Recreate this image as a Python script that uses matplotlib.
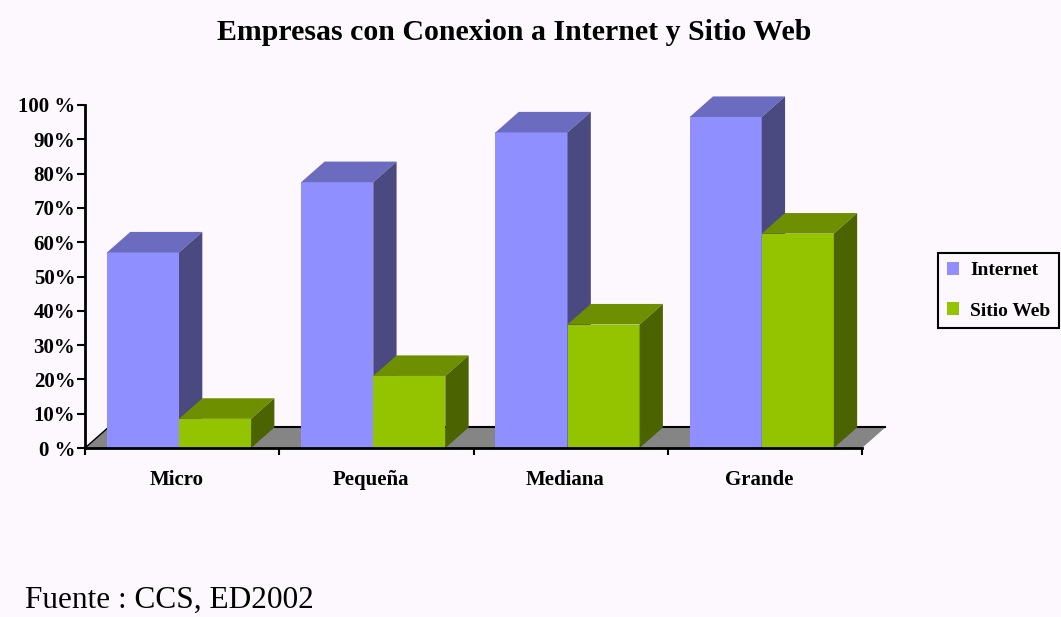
import numpy as np
import matplotlib
matplotlib.use("Agg")
import matplotlib.pyplot as plt
from matplotlib.patches import Polygon, Patch

# data (percent)
categorias = ["Micro", "Pequeña", "Mediana", "Grande"]
internet = [57, 77.5, 92, 96.5]
sitio_web = [8.5, 21, 36, 62.5]
series_names = ["Internet", "Sitio Web"]
y_ticks = [0, 10, 20, 30, 40, 50, 60, 70, 80, 90, 100]
y_labels = ["0 %", "10%", "20%", "30%", "40%", "50%", "60%", "70%", "80%", "90%", "100 %"]

bg = "#fdf8fd"
front = ["#8f8fff", "#94c400"]
top = ["#6b6bc0", "#6e8f00"]
side = ["#4a4a80", "#4b6300"]
floor_col = "#858585"

serif = "Liberation Serif"

fig = plt.figure(figsize=(10.61, 6.17), dpi=100, facecolor=bg)
ax = fig.add_axes([85 / 1061, 1 - 448 / 617, 777 / 1061, 343 / 617])
ax.set_facecolor(bg)
ax.patch.set_alpha(0)
ax.set_xlim(0, 4)
ax.set_ylim(0, 100)

dx, dy = 0.12, 6.0     # 3d depth in data units
gap, w = 0.113, 0.371  # left gap and bar width inside each category

# floor
n = len(categorias)
floor = Polygon([(0, 0), (n, 0), (n + dx, dy), (dx, dy)], closed=True,
                facecolor=floor_col, edgecolor="none", clip_on=False, zorder=1)
ax.add_patch(floor)
ax.plot([dx, n + dx], [dy, dy], color="black", lw=1.5, clip_on=False, zorder=1.5)
ax.plot([0, dx], [0, dy], color="black", lw=1, clip_on=False, zorder=1.5)

ind = np.arange(n)
z = 2
for i in ind:
    for s, vals in enumerate([internet, sitio_web]):
        x0 = i + gap + s * w
        h = vals[i]
        ax.bar(x0, h, w, align="edge", color=front[s], edgecolor="none",
               zorder=z, clip_on=False)
        ax.add_patch(Polygon([(x0, h), (x0 + w, h), (x0 + w + dx, h + dy), (x0 + dx, h + dy)],
                             closed=True, facecolor=top[s], edgecolor="none",
                             clip_on=False, zorder=z))
        ax.add_patch(Polygon([(x0 + w, 0), (x0 + w + dx, dy), (x0 + w + dx, h + dy), (x0 + w, h)],
                             closed=True, facecolor=side[s], edgecolor="none",
                             clip_on=False, zorder=z))
        z += 0.1

# axes styling
for sp in ["top", "right"]:
    ax.spines[sp].set_visible(False)
ax.spines["left"].set_linewidth(2)
ax.spines["bottom"].set_linewidth(2)
ax.spines["left"].set_zorder(5)
ax.spines["bottom"].set_zorder(5)

ax.set_yticks(y_ticks)
ax.set_yticklabels(y_labels, fontfamily=serif, fontweight="bold", fontsize=15)
ax.tick_params(axis="y", length=6, width=1.5, pad=1)

ax.set_xticks(np.arange(n + 1))
ax.set_xticklabels([])
ax.tick_params(axis="x", which="major", length=5, width=1.5)
ax.set_xticks(ind + 0.47, minor=True)
ax.set_xticklabels(categorias, minor=True, fontfamily=serif, fontweight="bold", fontsize=15)
ax.tick_params(axis="x", which="minor", length=0, pad=16)

fig.text(514 / 1061, 1 - 32 / 617, "Empresas con Conexion a Internet y Sitio Web",
         ha="center", va="center", fontfamily=serif, fontweight="bold", fontsize=21.5)

handles = [Patch(facecolor=front[0], edgecolor="none"),
           Patch(facecolor=front[1], edgecolor="none")]
lgd = fig.legend(handles, series_names, loc="upper left",
                 bbox_to_anchor=(938 / 1061, 1 - 253 / 617), borderaxespad=0,
                 prop={"family": serif, "weight": "bold", "size": 14},
                 fancybox=False, facecolor=bg, edgecolor="black", framealpha=1,
                 handlelength=0.65, handleheight=0.65, handletextpad=0.55,
                 labelspacing=1.2, borderpad=0.45)
lgd.get_frame().set_linewidth(1.5)

fig.text(25 / 1061, 1 - 600 / 617, "Fuente : CCS, ED2002", ha="left", va="center",
         fontfamily=serif, fontsize=22.5)

fig.savefig("out.png", dpi=100, facecolor=bg)
